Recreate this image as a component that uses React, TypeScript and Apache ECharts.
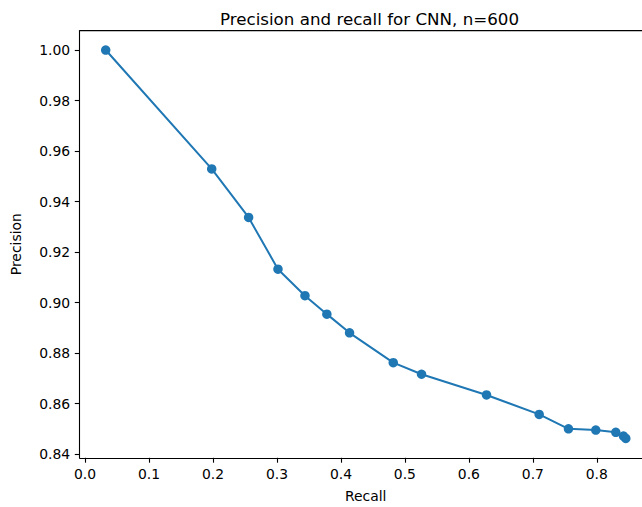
import React, { useEffect, useRef } from "react";
import * as echarts from "echarts";

const recall = [0.0323, 0.198, 0.2557, 0.3016, 0.3438, 0.378, 0.4135, 0.4818, 0.526, 0.6276, 0.7099, 0.7557, 0.7984, 0.8297, 0.8417, 0.8453];
const precision = [1.0, 0.9529, 0.9337, 0.9132, 0.9027, 0.8954, 0.888, 0.8762, 0.8716, 0.8634, 0.8557, 0.85, 0.8495, 0.8486, 0.8471, 0.8462];
const xTicks = [0, 0.1, 0.2, 0.3, 0.4, 0.5, 0.6, 0.7, 0.8];
const yTicks = [0.84, 0.86, 0.88, 0.9, 0.92, 0.94, 0.96, 0.98, 1.0];

const FONT = "DejaVu Sans";

export default function App() {
  const ref = useRef<HTMLDivElement>(null);
  useEffect(() => {
    if (!ref.current) return;
    const chart = echarts.init(ref.current, undefined, { renderer: "svg" });
    const xr = Math.max(...recall) - Math.min(...recall);
    const yr = Math.max(...precision) - Math.min(...precision);
    const xmin = Math.min(...recall) - 0.05 * xr;
    const xmax = Math.max(...recall) + 0.05 * xr;
    const ymin = Math.min(...precision) - 0.05 * yr;
    const ymax = Math.max(...precision) + 0.05 * yr;
    chart.setOption({
      animation: false,
      backgroundColor: "#ffffff",
      title: {
        text: "Precision and recall for CNN, n=600",
        left: 364.5,
        top: 5,
        textAlign: "center",
        textStyle: { fontFamily: FONT, fontSize: 16.7, fontWeight: "normal", color: "#000" },
      },
      grid: {
        left: 79.7,
        right: -9.8,
        top: 30.6,
        bottom: 49.2,
        containLabel: false,
        outerBoundsMode: "none",
      },
      xAxis: {
        type: "value",
        min: xmin,
        max: xmax,
        name: "Recall",
        nameLocation: "middle",
        nameGap: 31,
        nameTextStyle: { fontFamily: FONT, fontSize: 13.9, color: "#000" },
        axisLine: { show: true, onZero: false, lineStyle: { color: "#000", width: 1.1 } },
        axisTick: { show: true, length: 4.9, lineStyle: { color: "#000", width: 1.1 }, customValues: xTicks },
        axisLabel: {
          margin: 9.5,
          fontFamily: FONT,
          fontSize: 13.9,
          color: "#000",
          customValues: xTicks,
          formatter: (v: number) => v.toFixed(1),
        },
        splitLine: { show: false },
      },
      yAxis: {
        type: "value",
        min: ymin,
        max: ymax,
        name: "Precision",
        nameLocation: "middle",
        nameGap: 57,
        nameRotate: 90,
        nameTextStyle: { fontFamily: FONT, fontSize: 13.9, color: "#000" },
        axisLine: { show: true, onZero: false, lineStyle: { color: "#000", width: 1.1 } },
        axisTick: { show: true, length: 4.9, lineStyle: { color: "#000", width: 1.1 }, customValues: yTicks },
        axisLabel: {
          margin: 9.5,
          fontFamily: FONT,
          fontSize: 13.9,
          color: "#000",
          customValues: yTicks,
          formatter: (v: number) => v.toFixed(2),
        },
        splitLine: { show: false },
      },
      series: [
        {
          type: "line",
          data: recall.map((r, i) => [r, precision[i]]),
          symbol: "circle",
          symbolSize: 9.5,
          showAllSymbol: true,
          itemStyle: { color: "#1f77b4" },
          lineStyle: { color: "#1f77b4", width: 2 },
          emphasis: { disabled: true },
        },
      ],
      graphic: [
        {
          type: "line",
          shape: { x1: 79.7, y1: 30.6, x2: 660, y2: 30.6 },
          style: { stroke: "#000", lineWidth: 1.1 },
          silent: true,
        },
      ],
    });
    return () => chart.dispose();
  }, []);
  return (
    <div
      ref={ref}
      style={{ position: "fixed", left: 0, top: 0, width: 642, height: 507, background: "#fff" }}
    />
  );
}
